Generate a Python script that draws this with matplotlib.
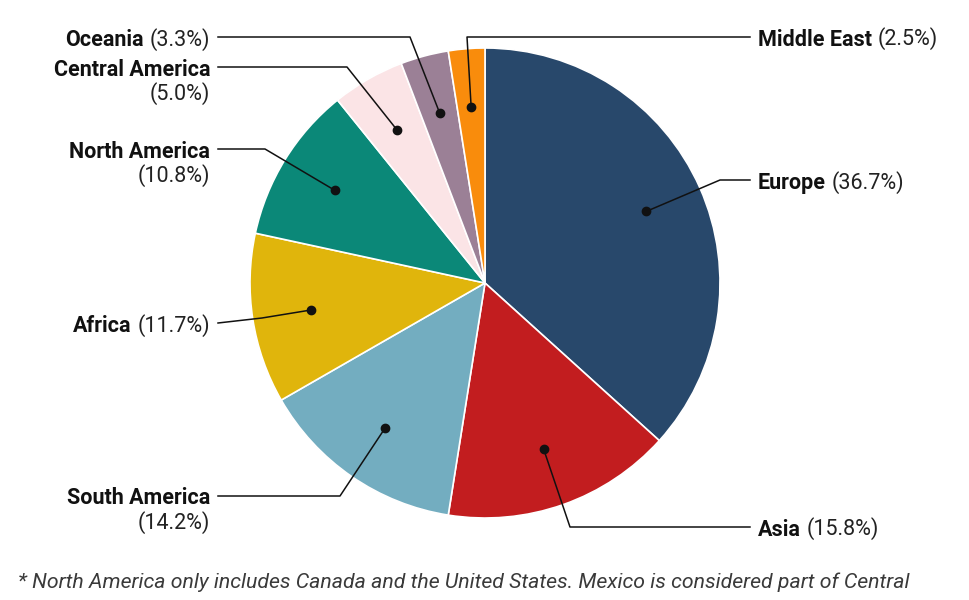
import numpy as np
import matplotlib.pyplot as plt

# share of total by region, clockwise from 12 o'clock
regions = ["Europe", "Asia", "South America", "Africa", "North America",
           "Central America", "Oceania", "Middle East"]
shares = [36.7, 15.8, 14.2, 11.7, 10.8, 5.0, 3.3, 2.5]
colors = ["#28486b", "#c21d1f", "#73adc0", "#e0b50c", "#0b8878",
          "#fbe4e6", "#9b8096", "#f98c0c"]

footnote = ("* North America only includes Canada and the United States. "
            "Mexico is considered part of Central")

# leader layout in pixels: (bend points..., end of line), side, two-line label
CX, CY, R = 485, 283, 235
layout = {
    "Europe":          ([(720, 180), (750, 180)], "right", False),
    "Asia":            ([(570, 527), (750, 527)], "right", False),
    "South America":   ([(340, 496), (218, 496)], "left", True),
    "Africa":          ([(262, 318), (218, 323)], "left", False),
    "North America":   ([(265, 149), (218, 149)], "left", True),
    "Central America": ([(347, 67), (218, 67)], "left", True),
    "Oceania":         ([(410, 37), (218, 37)], "left", False),
    "Middle East":     ([(467, 37), (750, 37)], "right", False),
}


def px(x, y):
    return (x - CX) / R, (CY - y) / R


plt.rcParams['font.family'] = ['Roboto', 'DejaVu Sans']

fig = plt.figure(figsize=(9.7, 6.0), dpi=100)
ax = fig.add_axes([(CX - R) / 970, (600 - CY - R) / 600, 2 * R / 970, 2 * R / 600])

wedges, _ = ax.pie(shares, colors=colors, startangle=90, counterclock=False,
                   wedgeprops=dict(edgecolor='white', linewidth=1.2))
ax.set_xlim(-1, 1)
ax.set_ylim(-1, 1)
ax.set_aspect('equal')
ax.axis('off')

FS = 15.5
for w, name, val in zip(wedges, regions, shares):
    mid = np.deg2rad((w.theta1 + w.theta2) / 2)
    dx, dy = 0.75 * np.cos(mid), 0.75 * np.sin(mid)
    pts, side, two_line = layout[name]
    xs = [dx] + [px(*p)[0] for p in pts]
    ys = [dy] + [px(*p)[1] for p in pts]
    ax.plot(xs, ys, color='#111111', lw=1.1, clip_on=False, zorder=3)
    ax.plot(dx, dy, 'o', color='#111111', ms=6, clip_on=False, zorder=4)

    lx, ly = xs[-1], ys[-1]
    pct = f"({val:.1f}%)"
    if side == "right":
        t = ax.text(lx + 8 / R, ly, name, ha='left', va='center_baseline',
                    fontsize=FS, fontweight='bold', color='#111111', clip_on=False)
        ax.annotate(pct, xy=(1, 0), xycoords=t, xytext=(4, 0),
                    textcoords='offset points', ha='left', va='bottom',
                    fontsize=FS, color='#222222')
    elif two_line:
        ax.text(lx - 8 / R, ly, name, ha='right', va='center_baseline',
                fontsize=FS, fontweight='bold', color='#111111', clip_on=False)
        ax.text(lx - 8 / R, ly - 24 / R, pct, ha='right', va='center_baseline',
                fontsize=FS, color='#222222', clip_on=False)
    else:
        t = ax.text(lx - 8 / R, ly, pct, ha='right', va='center_baseline',
                    fontsize=FS, color='#222222', clip_on=False)
        ax.annotate(name, xy=(0, 0), xycoords=t, xytext=(-4, 0),
                    textcoords='offset points', ha='right', va='bottom',
                    fontsize=FS, fontweight='bold', color='#111111')

fig.text(18 / 970, 1 - 582 / 600, footnote, ha='left', va='center',
         fontsize=15.3, fontstyle='italic', color='#3a3a3a')

fig.savefig('out.png', dpi=100, facecolor='white')
